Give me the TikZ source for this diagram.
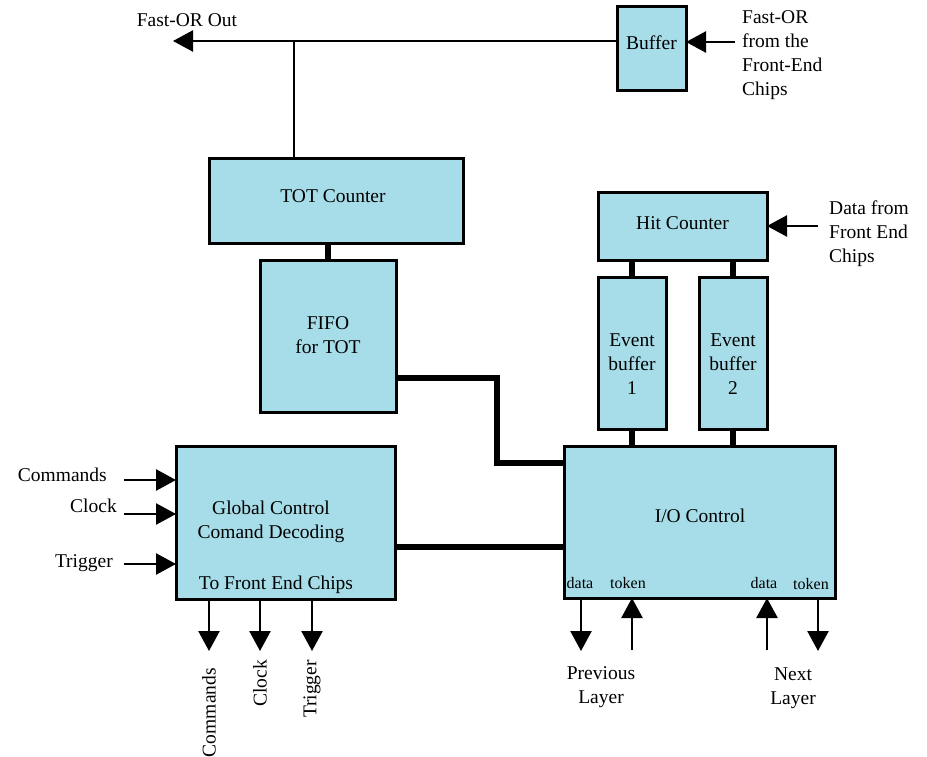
\documentclass[tikz,border=0pt]{standalone}
\usepackage{fontspec}
\setmainfont{Liberation Serif}
\usetikzlibrary{arrows.meta,calc}
\definecolor{boxblue}{RGB}{166,221,233}
\begin{document}
\begin{tikzpicture}[x=1pt,y=-1pt,
  font=\fontsize{19.5}{24}\selectfont,
  blk/.style={draw=black,fill=boxblue,line width=3pt,inner sep=0pt,outer sep=0pt,align=center},
  txt/.style={inner sep=0pt,align=center},
  thinline/.style={line width=2.5pt},
  bus/.style={line width=5.5pt},
  arr/.style={line width=2.5pt,-{Triangle[length=20pt,width=21pt]}},
  lbl/.style={inner sep=0pt,align=left},
  small/.style={font=\fontsize{16}{18}\selectfont,inner sep=0pt}]
\useasboundingbox (0,0) rectangle (927,757);

% boxes
\node[blk,minimum width=69pt,minimum height=84pt] (buf) at (651.5,49) {};
\node[blk,minimum width=254pt,minimum height=84pt] (tot) at (336,201) {};
\node[blk,minimum width=136pt,minimum height=152pt] (fifo) at (328,336) {};
\node[blk,minimum width=219pt,minimum height=153pt] (glob) at (285.5,522.5) {};
\node[blk,minimum width=271pt,minimum height=152pt] (io) at (699.5,522) {};
\node[blk,minimum width=169pt,minimum height=67pt] (hit) at (682.5,226.5) {};
\node[blk,minimum width=68pt,minimum height=152pt] (eb1) at (632,353) {};
\node[blk,minimum width=68pt,minimum height=152pt] (eb2) at (733,353) {};

% texts inside boxes
\node[txt] (buftxt) at (651.5,43) {Buffer};
\node[txt] (tottxt) at (333,196) {TOT Counter};
\node[txt] (fifotxt) at (328,335) {FIFO\\for TOT};
\node[txt] (hittxt) at (682.5,223) {Hit Counter};
\node[txt] (eb1txt) at (632,364) {Event\\buffer\\1};
\node[txt] (eb2txt) at (733,364) {Event\\buffer\\2};
\node[txt] (globtxt) at (271,522) {Global Control\\Comand Decoding};
\node[txt] (tofe) at (276,585) {To Front End Chips};
\node[txt] (iotxt) at (700,516) {I/O Control};
\node[small] (d1) at (580,583) {data};
\node[small] (t1) at (628,583) {token};
\node[small] (d2) at (764,583) {data};
\node[small] (t2) at (811,584) {token};

% outside labels
\node[txt] (fastout) at (187,20) {Fast-OR Out};
\node[lbl,anchor=west] (fastin) at (742,55) {Fast-OR\\from the\\Front-End\\Chips};
\node[lbl,anchor=west] (datain) at (829,234) {Data from\\Front End\\Chips};
\node[inner sep=0pt,anchor=east] (lcmd) at (107,475) {Commands};
\node[inner sep=0pt,anchor=east] (lclk) at (117,506) {Clock};
\node[inner sep=0pt,anchor=east] (ltrg) at (113,563) {Trigger};
\node[inner sep=0pt,rotate=90,anchor=east] (ocmd) at (209,668) {Commands};
\node[inner sep=0pt,rotate=90,anchor=east] (oclk) at (260,660) {Clock};
\node[inner sep=0pt,rotate=90,anchor=east] (otrg) at (312,660) {Trigger};
\node[txt] (prev) at (601,687) {Previous\\Layer};
\node[txt] (next) at (793,688) {Next\\Layer};

% coordinates for free ends
\coordinate (fo) at (173,41);
\coordinate (jn) at (294,41);
\coordinate (fi) at (735,42);
\coordinate (hi) at (818,226);
\coordinate (ci) at (124,480);
\coordinate (ki) at (124,514);
\coordinate (ti) at (124,564);
\coordinate (oc) at (209,651);
\coordinate (ok) at (260,651);
\coordinate (ot) at (312,651);
\coordinate (pd) at (581,651);
\coordinate (pt) at (632,650);
\coordinate (nd) at (767,650);
\coordinate (nt) at (818,651);

% Fast-OR
\draw[arr] (buf.west |- fo) -- (fo);
\draw[thinline] (tot.north -| jn) -- (jn);
\draw[arr] (fi) -- (buf.east |- fi);
\draw[arr] (hi) -- (hit.east |- hi);

% buses
\draw[bus] (tot.south -| fifo.north) -- (fifo.north);
\draw[bus] ($(fifo.south)+(-17,0)$) -- ($(fifo.south)+(-17,0)$ |- glob.north);
\draw[bus] ($(fifo.east)+(0,42)$) -| (497,463) -- (io.west |- 0,463);
\draw[bus] ($(glob.east)+(0,24.5)$) -- (io.west |- 0,547);
\draw[bus] (hit.south -| eb1.north) -- (eb1.north);
\draw[bus] (hit.south -| eb2.north) -- (eb2.north);
\draw[bus] (eb1.south) -- (eb1.south |- io.north);
\draw[bus] (eb2.south) -- (eb2.south |- io.north);

% global control inputs / outputs
\draw[arr] (ci) -- (glob.west |- ci);
\draw[arr] (ki) -- (glob.west |- ki);
\draw[arr] (ti) -- (glob.west |- ti);
\draw[arr] (glob.south -| oc) -- (oc);
\draw[arr] (glob.south -| ok) -- (ok);
\draw[arr] (glob.south -| ot) -- (ot);

% I/O ports
\draw[arr] (io.south -| pd) -- (pd);
\draw[arr] (pt) -- (io.south -| pt);
\draw[arr] (nd) -- (io.south -| nd);
\draw[arr] (io.south -| nt) -- (nt);
\end{tikzpicture}
\end{document}
